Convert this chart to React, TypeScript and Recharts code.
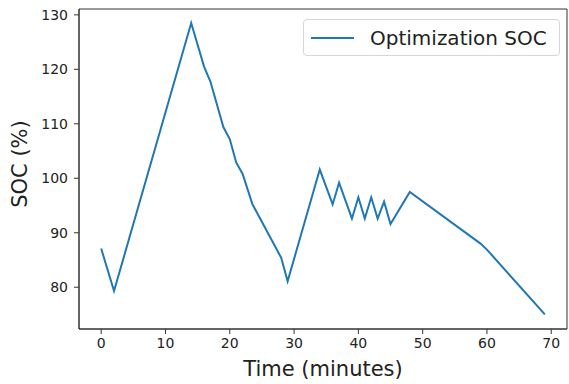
import { LineChart, Line, XAxis, YAxis, Legend, ReferenceArea } from "recharts"

const LINE_COLOR = "#1f77b4"
const AXIS_COLOR = "#333"
const FONT = "'DejaVu Sans', sans-serif"

// breakpoints of the SOC curve (minutes, %)
const time = [0, 2, 14, 16, 17, 19, 20, 21, 22, 23.5, 28, 29, 34, 36, 37, 39, 40, 41, 42, 43, 44, 45, 48, 59, 60, 69]
const soc = [87.1, 79.3, 128.5, 120.5, 117.7, 109.4, 107.2, 102.9, 100.8, 95.3, 85.4, 81.1, 101.6, 95.2, 99.2, 92.6, 96.5, 92.6, 96.5, 92.6, 95.7, 91.6, 97.5, 88.0, 86.9, 75.0]

const xTicks = [0, 10, 20, 30, 40, 50, 60, 70]
const yTicks = [80, 90, 100, 110, 120, 130]

const X_DOMAIN: [number, number] = [-3.45, 72.45]
const Y_DOMAIN: [number, number] = [72.33, 131.07]

const chartData = time.map((t, i) => ({ t, soc: soc[i] }))

function LegendBox() {
  return (
    <div
      style={{
        width: 257,
        height: 37,
        boxSizing: "border-box",
        border: "1px solid #d6d6d6",
        borderRadius: 4,
        background: "rgba(255,255,255,0.8)",
        display: "flex",
        alignItems: "center",
        fontFamily: FONT,
        fontSize: 20,
        color: "#222",
      }}
    >
      <svg width={60} height={10} style={{ marginLeft: 6 }}>
        <line x1={1} y1={5} x2={44} y2={5} stroke={LINE_COLOR} strokeWidth={2} />
      </svg>
      <span>Optimization SOC</span>
    </div>
  )
}

export default function App() {
  const tick = { fontSize: 14, fill: "#222", fontFamily: FONT }
  return (
    <div style={{ position: "absolute", left: 0, top: 0, width: 569, height: 384, background: "#fff" }}>
      <LineChart width={569} height={384} data={chartData} margin={{ top: 9, right: 2, left: 0, bottom: 0 }}>
        <XAxis
          dataKey="t"
          type="number"
          domain={X_DOMAIN}
          ticks={xTicks}
          allowDataOverflow
          height={55}
          tick={tick}
          tickSize={5}
          tickMargin={4}
          stroke={AXIS_COLOR}
          label={{
            value: "Time (minutes)",
            position: "insideBottom",
            offset: 8,
            style: { fontSize: 21, fill: "#222", fontFamily: FONT },
          }}
        />
        <YAxis
          type="number"
          domain={Y_DOMAIN}
          ticks={yTicks}
          allowDataOverflow
          width={79}
          tick={tick}
          tickSize={5}
          tickMargin={6}
          stroke={AXIS_COLOR}
          label={{
            value: "SOC (%)",
            angle: -90,
            position: "insideLeft",
            offset: 20,
            dy: -5,
            style: { fontSize: 21, fill: "#222", fontFamily: FONT, textAnchor: "middle" },
          }}
        />
        <ReferenceArea
          x1={X_DOMAIN[0]}
          x2={X_DOMAIN[1]}
          y1={Y_DOMAIN[0]}
          y2={Y_DOMAIN[1]}
          fill="none"
          stroke={AXIS_COLOR}
          strokeWidth={1}
        />
        <Legend
          layout="horizontal"
          verticalAlign="middle"
          content={() => <LegendBox />}
          wrapperStyle={{ top: 19, left: 303, width: 257 }}
        />
        <Line
          dataKey="soc"
          type="linear"
          stroke={LINE_COLOR}
          strokeWidth={2}
          dot={false}
          isAnimationActive={false}
        />
      </LineChart>
    </div>
  )
}
